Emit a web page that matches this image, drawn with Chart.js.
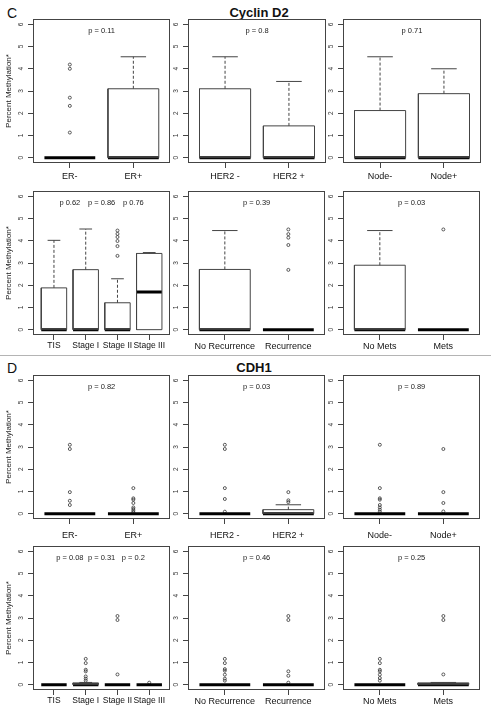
<!DOCTYPE html>
<html>
<head>
<meta charset="utf-8">
<script src="https://cdn.jsdelivr.net/npm/chart.js@4.4.1/dist/chart.umd.min.js"></script>
<style>
  body { margin: 0; background: #fff; }
  #page { position: relative; width: 491px; height: 711px; overflow: hidden; font-family: 'Liberation Sans', Arial, sans-serif; color: #111; }
  #page canvas { position: absolute; }
  .letter { position: absolute; font-size: 14px; line-height: 1; }
  .gene { position: absolute; font-size: 13px; font-weight: bold; line-height: 1; transform: translateX(-50%); }
  .rule { position: absolute; left: 0; width: 491px; top: 355px; height: 0; border-top: 1px solid #b4b4b4; }
</style>
</head>
<body>
<div id="page">
  <div class="letter" style="left:7px; top:6px;">C</div>
  <div class="gene" style="left:259px; top:6px;">Cyclin D2</div>
  <div class="rule"></div>
  <div class="letter" style="left:7px; top:361px;">D</div>
  <div class="gene" style="left:254px; top:361px;">CDH1</div>
</div>
<script>
// group labels
const labelsER = ['ER-', 'ER+']
const labelsHER2 = ['HER2 -', 'HER2 +']
const labelsNode = ['Node-', 'Node+']
const labelsStage = ['TIS', 'Stage I', 'Stage II', 'Stage III']
const labelsRec = ['No Recurrence', 'Recurrence']
const labelsMets = ['No Mets', 'Mets']

const yTicks = [0, 1, 2, 3, 4, 5, 6]

// each group: [lower whisker, q1, median, q3, upper whisker]
// Cyclin D2
const cycER = [[0, 0, 0, 0, 0], [0, 0, 0, 3.1, 4.54]]
const cycEROut = [[4.19, 4.0, 2.7, 2.33, 1.13], []]
const cycERP = ['p = 0.11']

const cycHER2 = [[0, 0, 0, 3.1, 4.54], [0, 0, 0, 1.43, 3.43]]
const cycHER2Out = [[], []]
const cycHER2P = ['p = 0.8']

const cycNode = [[0, 0, 0, 2.12, 4.54], [0, 0, 0, 2.88, 4.0]]
const cycNodeOut = [[], []]
const cycNodeP = ['p 0.71']

const cycStage = [[0, 0, 0, 1.88, 4.02], [0, 0, 0, 2.7, 4.53], [0, 0, 0, 1.21, 2.29], [0, 0, 1.7, 3.43, 3.47]]
const cycStageOut = [[], [], [4.46, 4.31, 4.17, 3.99, 3.76, 3.32], []]
const cycStageP = ['p 0.62', 'p = 0.86', 'p 0.76']

const cycRec = [[0, 0, 0, 2.71, 4.46], [0, 0, 0, 0, 0]]
const cycRecOut = [[], [4.51, 4.3, 4.14, 3.81, 2.69]]
const cycRecP = ['p = 0.39']

const cycMets = [[0, 0, 0, 2.9, 4.46], [0, 0, 0, 0, 0]]
const cycMetsOut = [[], [4.51]]
const cycMetsP = ['p = 0.03']

// CDH1
const cdhER = [[0, 0, 0, 0, 0], [0, 0, 0, 0, 0]]
const cdhEROut = [[3.1, 2.91, 0.97, 0.58, 0.39], [1.15, 0.69, 0.63, 0.48, 0.28, 0.21, 0.13, 0.06]]
const cdhERP = ['p = 0.82']

const cdhHER2 = [[0, 0, 0, 0, 0], [0, 0, 0, 0.18, 0.4]]
const cdhHER2Out = [[3.1, 2.91, 1.15, 0.66, 0.09], [0.97, 0.6, 0.52]]
const cdhHER2P = ['p = 0.03']

const cdhNode = [[0, 0, 0, 0, 0], [0, 0, 0, 0, 0]]
const cdhNodeOut = [[3.1, 1.15, 0.69, 0.63, 0.39, 0.28, 0.18, 0.09], [2.91, 0.97, 0.48, 0.1]]
const cdhNodeP = ['p = 0.89']

const cdhStage = [[0, 0, 0, 0, 0], [0, 0, 0, 0.08, 0.1], [0, 0, 0, 0, 0], [0, 0, 0, 0, 0]]
const cdhStageOut = [[], [1.16, 0.97, 0.67, 0.6, 0.37, 0.27, 0.18], [3.09, 2.91, 0.46], [0.09]]
const cdhStageP = ['p = 0.08', 'p = 0.31', 'p = 0.2']

const cdhRec = [[0, 0, 0, 0, 0], [0, 0, 0, 0, 0]]
const cdhRecOut = [[1.16, 0.97, 0.7, 0.63, 0.45, 0.27, 0.18], [3.09, 2.91, 0.6, 0.4, 0.09]]
const cdhRecP = ['p = 0.46']

const cdhMets = [[0, 0, 0, 0, 0], [0, 0, 0, 0.08, 0.1]]
const cdhMetsOut = [[1.16, 0.97, 0.67, 0.6, 0.45, 0.3, 0.18], [3.09, 2.91, 0.46]]
const cdhMetsP = ['p = 0.25']


const font = 'Liberation Sans, Arial, sans-serif'
const ink = '#444'
const colLeft = [33, 188, 343]
const rowTop = [19, 191, 375, 546]
const labelPad = [3, 1, 6, 1]
const plotW = 138
const plotH = 144
const padL = 33
const padT = 6


// frame, rotated y labels and p values
const panelDecor = {
  id: 'panelDecor',
  afterDraw(chart) {
    const {ctx, chartArea: a, scales: {x, y}} = chart
    const opts = chart.options.plugins.panelDecor
    ctx.save()
    ctx.strokeStyle = ink
    ctx.lineWidth = 1
    ctx.strokeRect(Math.round(a.left) + 0.5, Math.round(a.top) + 0.5, Math.round(a.width) - 1, Math.round(a.height) - 1)

    ctx.fillStyle = '#333'
    ctx.font = '6.5px ' + font
    ctx.textAlign = 'center'
    ctx.textBaseline = 'middle'
    yTicks.forEach(v => {
      ctx.save()
      ctx.translate(a.left - 12, y.getPixelForValue(v))
      ctx.rotate(-Math.PI / 2)
      ctx.fillText(String(v), 0, 0)
      ctx.restore()
    })

    ctx.fillStyle = '#222'
    ctx.font = '7.5px ' + font
    opts.pTexts.forEach((t, k) => {
      ctx.fillText(t, x.getPixelForValue(k + 1.5), y.getPixelForValue(5.72))
    })
    ctx.restore()
  }
}


function panel(row, col, labels, stats, outliers, pTexts) {
  const n = labels.length
  const canvas = document.createElement('canvas')
  canvas.width = padL + plotW + 4
  canvas.height = padT + plotH + 28
  canvas.style.left = (colLeft[col] - padL) + 'px'
  canvas.style.top = (rowTop[row] - padT) + 'px'
  document.getElementById('page').appendChild(canvas)

  const datasets = []
  const seg = (pts, extra) => datasets.push({
    data: pts,
    showLine: true,
    borderColor: ink,
    borderWidth: 1,
    pointRadius: 0,
    fill: false,
    ...extra,
  })

  stats.forEach(([lo, q1, med, q3, hi], i) => {
    const x = i + 1
    if (hi > q3) {
      seg([{x, y: q3}, {x, y: hi}], {borderDash: [3, 2]})
      seg([{x: x - 0.2, y: hi}, {x: x + 0.2, y: hi}])
    }
    if (lo < q1) {
      seg([{x, y: q1}, {x, y: lo}], {borderDash: [3, 2]})
      seg([{x: x - 0.2, y: lo}, {x: x + 0.2, y: lo}])
    }
    if (q3 > q1) {
      seg([
        {x: x - 0.4, y: q1}, {x: x + 0.4, y: q1}, {x: x + 0.4, y: q3},
        {x: x - 0.4, y: q3}, {x: x - 0.4, y: q1},
      ])
    }
    seg([{x: x - 0.4, y: med}, {x: x + 0.4, y: med}], {borderColor: '#000', borderWidth: 3, borderCapStyle: 'butt'})
  })

  datasets.push({
    data: outliers.flatMap((vals, i) => vals.map(v => ({x: i + 1, y: v}))),
    showLine: false,
    pointRadius: 1.5,
    pointBorderWidth: 0.8,
    pointBorderColor: '#333',
    pointBackgroundColor: 'rgba(255,255,255,0)',
  })

  const grid = {
    display: true,
    drawOnChartArea: false,
    drawTicks: true,
    tickLength: 5,
    color: ink,
    lineWidth: 1,
  }

  new Chart(canvas, {
    type: 'scatter',
    data: {datasets},
    options: {
      responsive: false,
      animation: false,
      events: [],
      layout: {padding: {top: padT, right: 4, left: 0, bottom: 0}},
      plugins: {
        legend: {display: false},
        tooltip: {enabled: false},
        panelDecor: {pTexts},
      },
      scales: {
        x: {
          type: 'linear',
          min: 0.5 - 0.04 * n,
          max: n + 0.5 + 0.04 * n,
          border: {display: false},
          grid,
          afterBuildTicks: s => { s.ticks = labels.map((_, i) => ({value: i + 1})) },
          afterFit: s => { s.height = 28 },
          ticks: {
            autoSkip: false,
            maxRotation: 0,
            minRotation: 0,
            padding: labelPad[row],
            color: '#111',
            font: {family: font, size: n > 2 ? 8.5 : 9},
            callback: v => labels[v - 1],
          },
        },
        y: {
          type: 'linear',
          min: -0.24,
          max: 6.24,
          border: {display: false},
          grid,
          afterBuildTicks: s => { s.ticks = yTicks.map(v => ({value: v})) },
          afterFit: s => { s.width = padL },
          ticks: {display: false},
          title: {
            display: col === 0,
            text: 'Percent Methylation*',
            color: '#222',
            font: {family: font, size: 8},
            padding: {top: 3.5, bottom: 0},
          },
        },
      },
    },
    plugins: [panelDecor],
  })
}


panel(0, 0, labelsER, cycER, cycEROut, cycERP)
panel(0, 1, labelsHER2, cycHER2, cycHER2Out, cycHER2P)
panel(0, 2, labelsNode, cycNode, cycNodeOut, cycNodeP)
panel(1, 0, labelsStage, cycStage, cycStageOut, cycStageP)
panel(1, 1, labelsRec, cycRec, cycRecOut, cycRecP)
panel(1, 2, labelsMets, cycMets, cycMetsOut, cycMetsP)

panel(2, 0, labelsER, cdhER, cdhEROut, cdhERP)
panel(2, 1, labelsHER2, cdhHER2, cdhHER2Out, cdhHER2P)
panel(2, 2, labelsNode, cdhNode, cdhNodeOut, cdhNodeP)
panel(3, 0, labelsStage, cdhStage, cdhStageOut, cdhStageP)
panel(3, 1, labelsRec, cdhRec, cdhRecOut, cdhRecP)
panel(3, 2, labelsMets, cdhMets, cdhMetsOut, cdhMetsP)
</script>
</body>
</html>
